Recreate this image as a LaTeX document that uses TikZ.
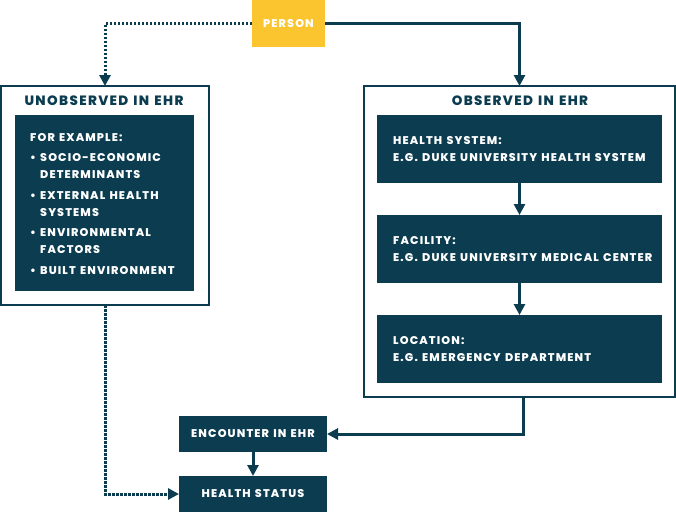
\documentclass[tikz,border=0pt]{standalone}
\usepackage{fontspec}
\setmainfont{Poppins}
\newfontfamily\ehrfont{Poppins}[LetterSpace=10,BoldFont={Poppins ExtraBold},WordSpace=1.3]
\usetikzlibrary{arrows.meta}
\definecolor{ehrdark}{HTML}{0B3C4F}
\definecolor{ehryellow}{HTML}{FBC52F}
\begin{document}
\begin{tikzpicture}[x=1pt,y=-1pt,
  darkbox/.style={fill=ehrdark,inner sep=0pt,outer sep=0pt,anchor=north west},
  outerbox/.style={draw=ehrdark,line width=1.5pt,fill=white,inner sep=0pt,outer sep=0pt,anchor=north west},
  boxtext/.style={text=white,font=\ehrfont\bfseries\fontsize{11.2}{17}\selectfont,align=left,anchor=west,inner sep=0pt},
  labeltext/.style={text=white,font=\ehrfont\bfseries\fontsize{11.2}{12}\selectfont,inner sep=0pt},
  titletext/.style={text=ehrdark,font=\ehrfont\bfseries\fontsize{13.5}{15}\selectfont,inner sep=0pt},
  solidarrow/.style={draw=ehrdark,line width=3pt,-{Triangle[length=11pt,width=11pt]}},
  dotarrow/.style={draw=ehrdark,line width=3pt,dash pattern=on 2.5pt off 1.5pt,-{Triangle[length=11pt,width=11pt]}},
]
\useasboundingbox (0,0) rectangle (676,512);

% person
\node[fill=ehryellow,inner sep=0pt,outer sep=0pt,anchor=north west,minimum width=73pt,minimum height=47pt] (person) at (252,0) {};
\node[labeltext] (persontext) at (person.center) {PERSON};

% left outer
\node[outerbox,minimum width=208pt,minimum height=219pt] (leftouter) at (1,86) {};
\node[titletext] (lefttitle) at (104,101) {UNOBSERVED IN EHR};
\node[darkbox,minimum width=179pt,minimum height=176pt] (leftinner) at (15,115) {};
\node[boxtext,anchor=north west] (lefttext) at (30,133) {FOR EXAMPLE:\\[3.5pt]
\makebox[10pt][l]{•}SOCIO-ECONOMIC\\
\hspace*{10pt}DETERMINANTS\\[3.5pt]
\makebox[10pt][l]{•}EXTERNAL HEALTH\\
\hspace*{10pt}SYSTEMS\\[3.5pt]
\makebox[10pt][l]{•}ENVIRONMENTAL\\
\hspace*{10pt}FACTORS\\[3.5pt]
\makebox[10pt][l]{•}BUILT ENVIRONMENT};

% right outer
\node[outerbox,minimum width=311pt,minimum height=311pt] (rightouter) at (364,86) {};
\node[titletext] (righttitle) at (520,101) {OBSERVED IN EHR};
\node[darkbox,minimum width=285pt,minimum height=68pt] (hsys) at (377,115) {};
\node[boxtext] (hsystext) at (393,149) {HEALTH SYSTEM:\\E.G. DUKE UNIVERSITY HEALTH SYSTEM};
\node[darkbox,minimum width=285pt,minimum height=68pt] (fac) at (377,215) {};
\node[boxtext] (factext) at (393,249) {FACILITY:\\E.G. DUKE UNIVERSITY MEDICAL CENTER};
\node[darkbox,minimum width=285pt,minimum height=68pt] (loc) at (377,315) {};
\node[boxtext] (loctext) at (393,349) {LOCATION:\\E.G. EMERGENCY DEPARTMENT};

% bottom
\node[darkbox,minimum width=148pt,minimum height=36pt] (enc) at (179,416) {};
\node[labeltext] (enctext) at (enc.center) {ENCOUNTER IN EHR};
\node[darkbox,minimum width=148pt,minimum height=36pt] (health) at (179,476) {};
\node[labeltext] (healthtext) at (health.center) {HEALTH STATUS};

% connectors
\draw[dotarrow] (person.west) -| (leftouter.north);
\draw[solidarrow] (person.east) -| (rightouter.north);
\draw[solidarrow] (hsys.south) -- (fac.north);
\draw[solidarrow] (fac.south) -- (loc.north);
\coordinate (rbot) at ([xshift=4pt]rightouter.south);
\draw[solidarrow] (rbot) |- (enc.east);
\draw[solidarrow] (enc.south) -- (health.north);
\draw[dotarrow] (leftouter.south) |- (health.west);
\end{tikzpicture}
\end{document}
